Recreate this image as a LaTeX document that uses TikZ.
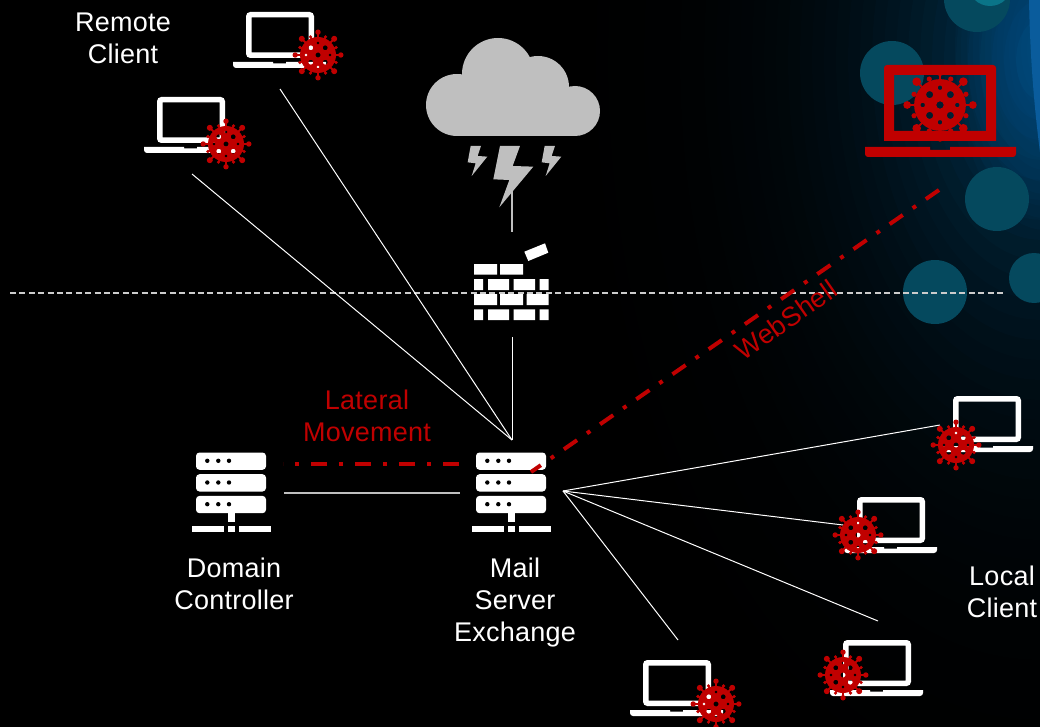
\documentclass[tikz,border=0pt]{standalone}
\usepackage{fontspec}
\setmainfont[LetterSpace=1]{Liberation Sans}
\definecolor{vred}{HTML}{C00000}
\definecolor{cloudgrey}{HTML}{BFBFBF}
\definecolor{dotteal}{HTML}{05495E}
\definecolor{dotlight}{HTML}{0A7488}
\definecolor{bandblue}{HTML}{0A5C9C}
\definecolor{glowa}{HTML}{00436A}
\tikzset{
  whiteline/.style={draw=white,line width=1pt},
  greyline/.style={draw=cloudgrey,line width=1.2pt},
  redline/.style={draw=vred,line width=4pt,dash pattern=on 16pt off 12pt on 4pt off 12pt},
  label/.style={text=white,inner sep=0pt,align=center,font=\fontsize{27}{32}\selectfont},
  redlabel/.style={label,text=vred},
  bubble/.style={fill=dotteal,draw=none},
  pics/virus/.style={code={
    \foreach \a in {0,90,180,270}{
      \draw[vred,line width=2pt] (\a:17) -- (\a:22);
      \fill[vred] (\a:22.8) circle (2.7);}
    \foreach \a in {45,135,225,315}{
      \draw[vred,line width=2pt] (\a:17) -- (\a:22);
      \fill[vred] (\a:22.9) circle (3);}
    \foreach \a in {22.5,67.5,...,337.5}{
      \draw[vred,line width=1.5pt] (\a:17) -- (\a:19);
      \fill[vred] (\a:19.5) circle (1.8);}
    \fill[vred,even odd rule] (0,0) circle (18)
      (0,0) circle (2.6)
      (45:10.2) circle (2.5) (135:10.2) circle (2.5) (225:10.2) circle (2.5) (315:10.2) circle (2.5)
      (0:12) circle (1.6) (90:12) circle (1.6) (180:12) circle (1.6) (270:12) circle (1.6);
  }},
  pics/laptop/.style={code={
    \draw[white,line width=5.5pt,rounded corners=2pt] (2.75,2.75) rectangle (65.25,43.25);
    \fill[white] (-13,50) -- (27,50) -- (27,51.5) -- (40,51.5) -- (40,50) -- (80,50) [rounded corners=3pt] -- (80,56) -- (-13,56) [sharp corners] -- cycle;
  }},
  pics/servericon/.style={code={
    \foreach \y in {0,21.7,43.4}{
      \fill[white,rounded corners=3.5pt] (0,\y) rectangle (70,\y+17.3);
      \foreach \x in {11.3,22.3,33}{\fill[black] (\x,\y+8.3) circle (2.2);}
    }
    \fill[white] (32,60.7) rectangle (39,69.5);
    \fill[white] (-4,73) rectangle (28,79.5);
    \fill[white] (32,73) rectangle (39,79.5);
    \fill[white] (43,73) rectangle (75,79.5);
  }}
}
\begin{document}
\begin{tikzpicture}[x=1pt,y=-1pt]
\useasboundingbox (0,0) rectangle (1040,727);
\clip (0,0) rectangle (1040,727);
\fill[black] (0,0) rectangle (1040,727);
% background glow, bubbles and band
\foreach \s in {1.00,0.98,...,0.02}{
  \pgfmathsetmacro{\pct}{100*(1-\s)^4}
  \fill[glowa!\pct!black] (1040,60) ellipse ({600*\s} and {1000*\s});
}
\foreach \r in {90,84,...,12}{
  \fill[bandblue,fill opacity=0.05] (1045,50) ellipse ({\r} and {2*\r});
}
\fill[bandblue] (1029,0) .. controls (1030,50) and (1033,100) .. (1041,160) -- (1041,0) -- cycle;
\fill[bubble] (892,73) circle (32);
\fill[bubble] (977,-1) circle (33);
\fill[dotlight] (990,-16) circle (22);
\fill[bubble] (997,199) circle (32);
\fill[bubble] (935,292) circle (32);
\fill[bubble] (1034,278) circle (25);

% horizontal boundary
\coordinate (boundL) at (10,293);
\coordinate (boundR) at (1005,293);
\draw[draw=cloudgrey!80!white,line width=1.3pt,dash pattern=on 6pt off 3.4pt] (boundL) -- (boundR);

% cloud
\fill[cloudgrey] (457,105) circle (31) (498,74) circle (36) (538,87) circle (31) (575,111) circle (25);
\fill[cloudgrey] (457,90) rectangle (575,136);
\fill[cloudgrey] (500,70) rectangle (540,110);
% bolts
\begin{scope}[shift={(410,30)},x=0.3333pt,y=-0.3333pt]
\fill[cloudgrey] (270,348) -- (330,348) -- (308,408) -- (370,410) -- (268,532) -- (298,450) -- (250,448) -- cycle;
\fill[cloudgrey] (182,348) -- (213,348) -- (203,378) -- (232,380) -- (185,438) -- (197,400) -- (173,397) -- cycle;
\fill[cloudgrey] (404,348) -- (435,348) -- (425,378) -- (454,380) -- (407,438) -- (419,400) -- (395,397) -- cycle;
\end{scope}

% firewall
\fill[white]
  (474,264) rectangle (497,274.5) (500,264) rectangle (523,274.5)
  (474,279) rectangle (483,290) (488,279) rectangle (509,290) (513.5,279) rectangle (535,290) (539.5,279) rectangle (548.5,290)
  (474,294) rectangle (497,305) (500,294) rectangle (523,305) (526.5,294) rectangle (548.5,305)
  (474,309.3) rectangle (483,320) (488,309.3) rectangle (509,320) (513.5,309.3) rectangle (535,320) (539.5,309.3) rectangle (548.5,320);
\fill[white] (524.3,251.7) -- (545,243.3) -- (548.3,252.7) -- (528.3,261) -- cycle;

% connector anchors
\coordinate (cloudFoot) at (512,191);
\coordinate (fwTop) at (512,232);
\coordinate (fwFoot) at (512,337);
\coordinate (mailTop) at (512,440);
\coordinate (rcA) at (280,89);
\coordinate (rcB) at (192,174);
\coordinate (mailFan) at (563,491);
\coordinate (lcA) at (940,425);
\coordinate (lcB) at (843,525);
\coordinate (lcC) at (878,621);
\coordinate (lcD) at (678,640);
\coordinate (dcLink) at (284,493);
\coordinate (mailLink) at (460,493);
\coordinate (dcRed) at (283,464);
\coordinate (mailRed) at (459,464);
\coordinate (webEnd) at (939,190);
\coordinate (webStart) at (531,472);

\draw[greyline] (cloudFoot) -- (fwTop);
\draw[whiteline] (fwFoot) -- (mailTop);
\draw[whiteline] (rcA) -- (mailTop);
\draw[whiteline] (rcB) -- (mailTop);
\draw[greyline] (dcLink) -- (mailLink);

% servers
\pic at (196,452.5) {servericon};
\pic at (476,452.5) {servericon};

\draw[whiteline] (mailFan) -- (lcA);
\draw[whiteline] (mailFan) -- (lcB);
\draw[whiteline] (mailFan) -- (lcC);
\draw[whiteline] (mailFan) -- (lcD);
\draw[redline] (mailRed) -- (dcRed);
\draw[redline] (webEnd) -- (webStart);

% laptops
\pic at (246,12) {laptop};
\pic at (318,55) {virus};
\pic at (157,97) {laptop};
\pic at (226,144) {virus};
\pic at (953,396) {laptop};
\pic at (956,445) {virus};
\pic at (857,497) {laptop};
\pic at (858,535) {virus};
\pic at (843,640) {laptop};
\pic at (843,675) {virus};
\pic at (643,660) {laptop};
\pic at (716,704) {virus};

% attacker laptop
\fill[vred,even odd rule] (884,141) [rounded corners=3pt] -- (884,65) -- (996,65) [sharp corners] -- (996,141) -- cycle (894,75) rectangle (986,131);
\fill[vred] (865,147) -- (930,147) -- (930,150) -- (950,150) -- (950,147) -- (1016,147) [rounded corners=3pt] -- (1016,157) -- (865,157) [sharp corners] -- cycle;
\pic[scale=1.44] at (940,105) {virus};

% labels
\node[label] (remote) at (123,38) {Remote\\Client};
\node[label] (domain) at (234,584) {Domain\\Controller};
\node[label] (mail) at (515,603) {Mail\\Server\\Exchange};
\node[label] (local) at (1002,592) {Local\\Client};
\node[redlabel] (lateral) at (367,416) {Lateral\\Movement};
\node[redlabel,rotate=35] (webshell) at (786,320) {WebShell};
\end{tikzpicture}
\end{document}
